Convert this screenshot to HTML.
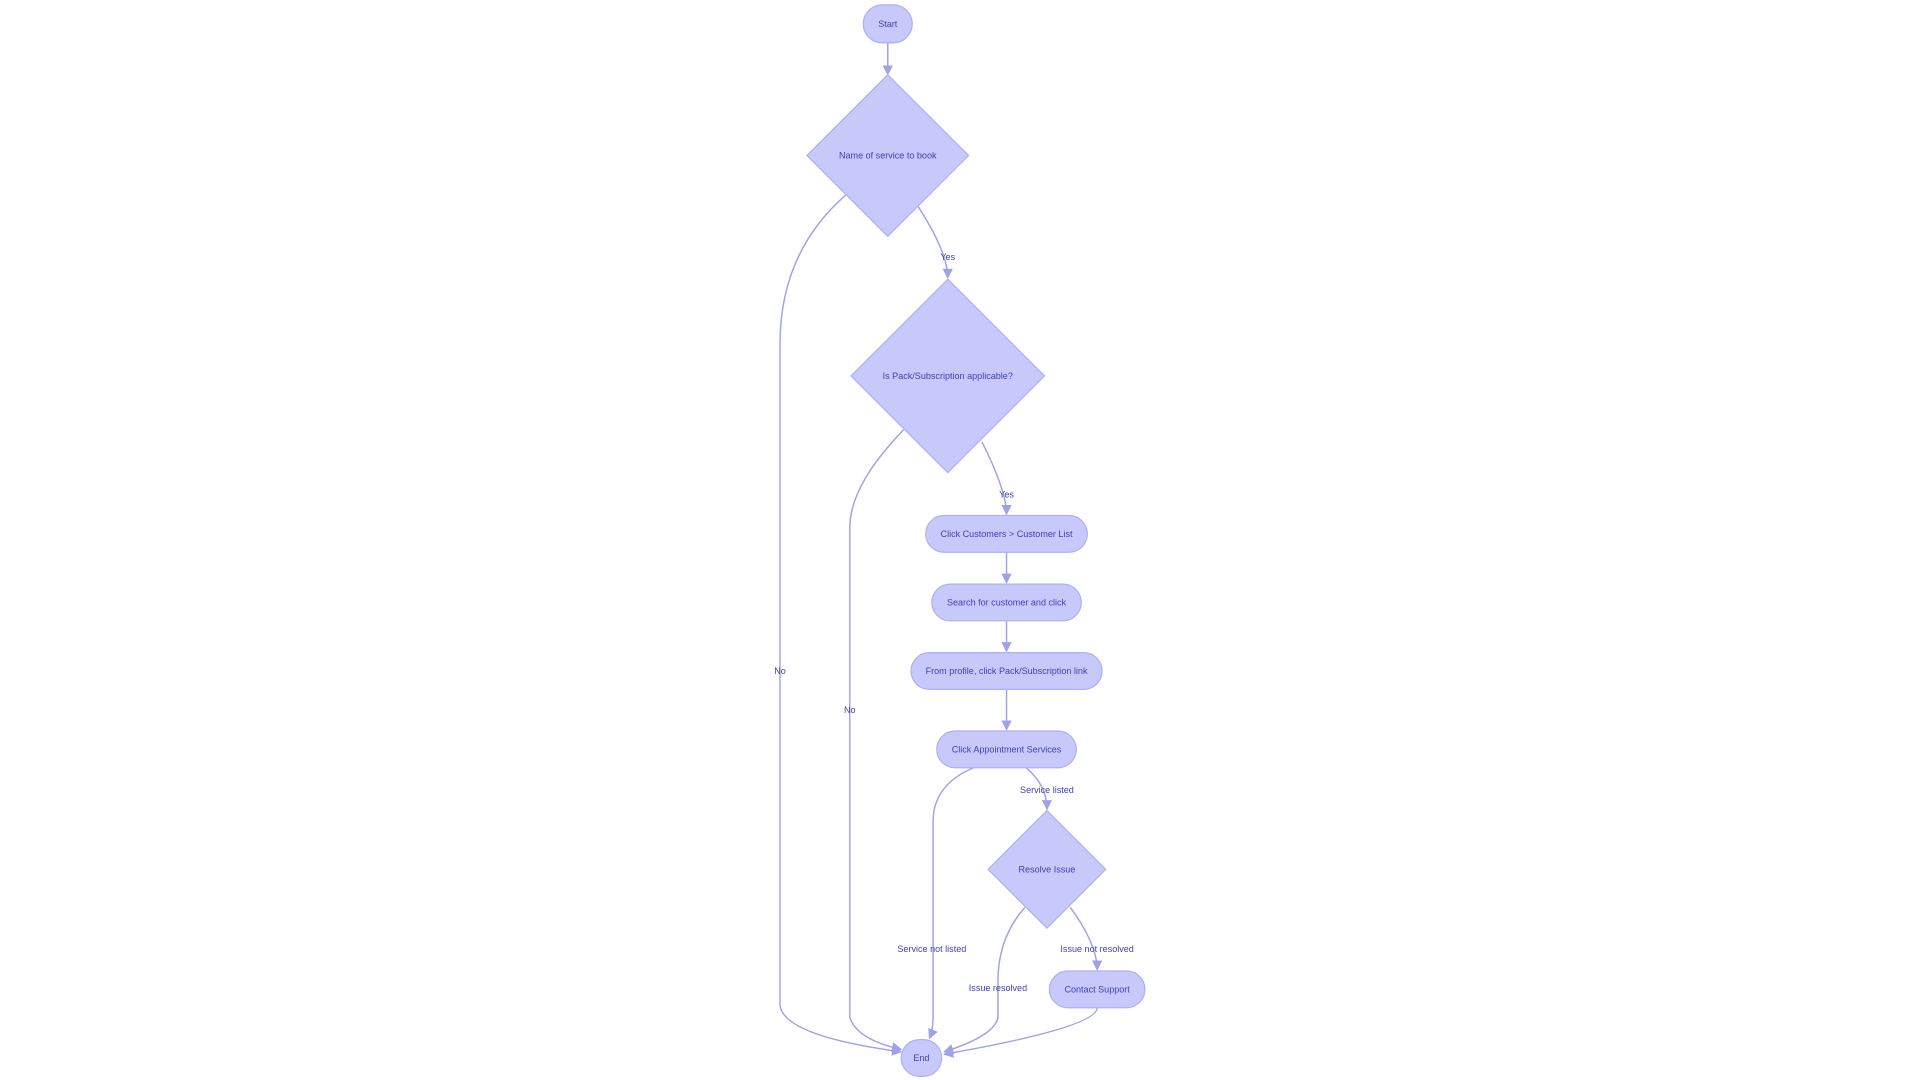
<!DOCTYPE html>
<html><head><meta charset="utf-8"><style>
html,body{margin:0;padding:0;background:#fff;}
svg{display:block;}
text{font-family:"Liberation Sans",sans-serif;font-size:7.4px;fill:#3f40b5;text-anchor:middle;dominant-baseline:central;}
.n{fill:#c8c9fb;stroke:#aeb0f0;stroke-width:1;}
.e{fill:none;stroke:#a0a2e8;stroke-width:1.2;}
</style></head><body>
<svg width="1920" height="1080" viewBox="0 0 1568 882" xmlns="http://www.w3.org/2000/svg">
<defs><marker id="a" viewBox="0 0 10 10" refX="9" refY="5" markerWidth="7" markerHeight="7" orient="auto"><path d="M0,0L10,5L0,10z" fill="#a0a2e8"/></marker></defs>
<g transform="translate(0,1)">
<path class="e" marker-end="url(#a)" d="M725,34 L725,60"/>
<path class="e" marker-end="url(#a)" d="M750,168 Q774,205 774,226"/>
<path class="e" marker-end="url(#a)" d="M691,158 Q637,205 637,280 L637,820 Q640,845 736,858"/>
<path class="e" marker-end="url(#a)" d="M738,350 Q694,395 694,430 L694,830 Q700,848 736,856"/>
<path class="e" marker-end="url(#a)" d="M802,360 Q822,400 822,419"/>
<path class="e" marker-end="url(#a)" d="M822,450 L822,475"/>
<path class="e" marker-end="url(#a)" d="M822,506 L822,531"/>
<path class="e" marker-end="url(#a)" d="M822,562 L822,595"/>
<path class="e" marker-end="url(#a)" d="M838,626 Q855,640 855,660"/>
<path class="e" marker-end="url(#a)" d="M795,626 Q762,640 762,670 L762,830 Q762,840 759,847"/>
<path class="e" marker-end="url(#a)" d="M837,740 Q815,765 815,800 L815,830 Q812,845 771,858"/>
<path class="e" marker-end="url(#a)" d="M874,740 Q896,770 896,791"/>
<path class="e" marker-end="url(#a)" d="M896,822 Q896,838 771,860"/>
<text x="774" y="209">Yes</text>
<text x="637" y="547">No</text>
<text x="694" y="579">No</text>
<text x="822" y="403">Yes</text>
<text x="855" y="644">Service listed</text>
<text x="761" y="774">Service not listed</text>
<text x="815" y="806">Issue resolved</text>
<text x="896" y="774">Issue not resolved</text>
<rect class="n" x="705" y="3" width="40" height="31" rx="15.5"/><text x="725" y="18.5">Start</text>
<polygon class="n" points="725,60 791,126 725,192 659,126"/><text x="725" y="126">Name of service to book</text>
<polygon class="n" points="774,227 853,306 774,385 695,306"/><text x="774" y="306">Is Pack/Subscription applicable?</text>
<rect class="n" x="756" y="420" width="132" height="30" rx="15"/><text x="822" y="435">Click Customers &gt; Customer List</text>
<rect class="n" x="761" y="476" width="122" height="30" rx="15"/><text x="822" y="491">Search for customer and click</text>
<rect class="n" x="744" y="532" width="156" height="30" rx="15"/><text x="822" y="547">From profile, click Pack/Subscription link</text>
<rect class="n" x="765" y="596" width="114" height="30" rx="15"/><text x="822" y="611">Click Appointment Services</text>
<polygon class="n" points="855,661 903,709 855,757 807,709"/><text x="855" y="709">Resolve Issue</text>
<rect class="n" x="857" y="792" width="78" height="30" rx="15"/><text x="896" y="807">Contact Support</text>
<rect class="n" x="736" y="848" width="33" height="30" rx="15"/><text x="752.5" y="863">End</text>
</g>
</svg>
</body></html>
